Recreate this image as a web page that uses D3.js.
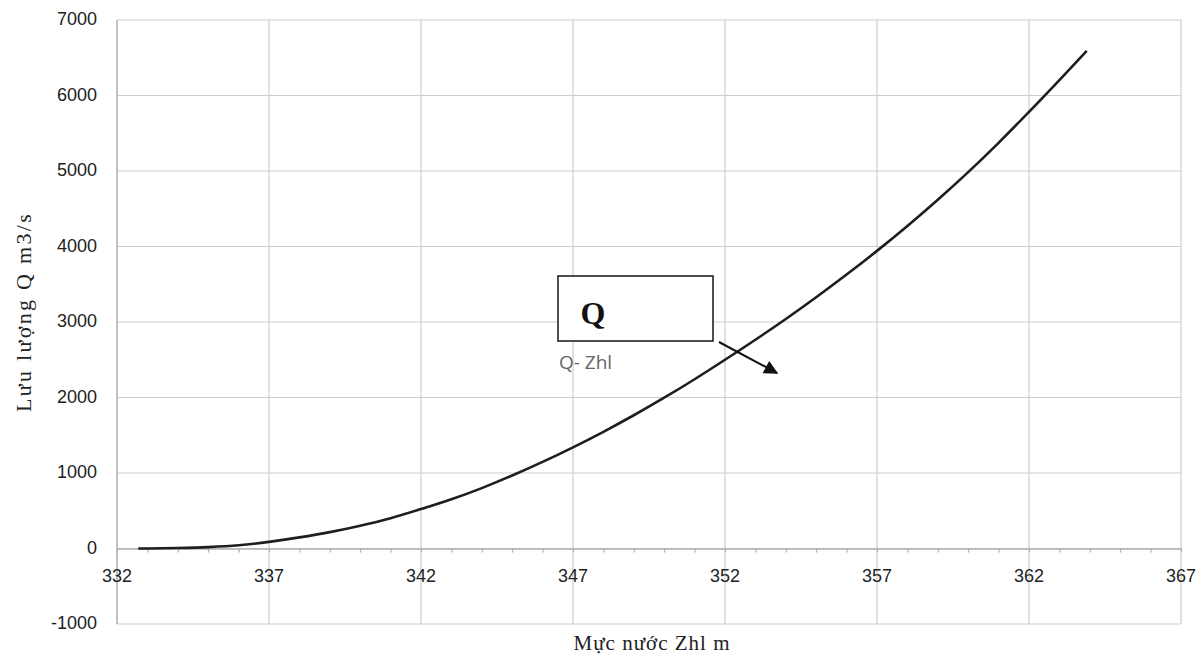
<!DOCTYPE html>
<html>
<head>
<meta charset="utf-8">
<script src="https://cdn.jsdelivr.net/npm/d3@7/dist/d3.min.js"></script>
<style>
  html, body { margin: 0; padding: 0; background: #fff; }
  svg { display: block; }
</style>
</head>
<body>
<svg id="chart" width="1199" height="657"></svg>
<script>
// ---- Data ----
const zhl = [332.7, 333, 334, 335, 336, 337, 338, 339, 340, 341, 342, 343, 344, 345, 346, 347, 348, 349, 350, 351, 352, 353, 354, 355, 356, 357, 358, 359, 360, 361, 362, 363, 363.9];
const qValues = [0, 1, 6, 18, 42, 88, 147, 217, 302, 402, 522, 652, 800, 967, 1147, 1340, 1546, 1765, 1997, 2242, 2500, 2765, 3040, 3328, 3628, 3942, 4272, 4619, 4985, 5373, 5783, 6205, 6592];
const xTicks = [332, 337, 342, 347, 352, 357, 362, 367];
const yTicks = [-1000, 0, 1000, 2000, 3000, 4000, 5000, 6000, 7000];
const xMinorTicks = d3.range(332, 368, 1);
const xTitle = "Mực nước Zhl m";
const yTitle = "Lưu lượng Q m3/s";
const boxLabel = "Q";
const seriesLabel = "Q- Zhl";

// ---- Layout ----
const svg = d3.select("#chart");
const plotL = 117, plotR = 1181, plotT = 20, plotB = 624;

const x = d3.scaleLinear().domain([332, 367]).range([plotL, plotR]);
const y = d3.scaleLinear().domain([-1000, 7000]).range([plotB, plotT]);

const gridColor = "#cdcdcd";

// vertical gridlines
svg.append("g").selectAll("line").data(xTicks).join("line")
  .attr("x1", d => x(d)).attr("x2", d => x(d))
  .attr("y1", plotT).attr("y2", plotB)
  .attr("stroke", gridColor).attr("stroke-width", 1.2);

// horizontal gridlines
svg.append("g").selectAll("line").data(yTicks).join("line")
  .attr("x1", plotL).attr("x2", plotR)
  .attr("y1", d => y(d)).attr("y2", d => y(d))
  .attr("stroke", gridColor).attr("stroke-width", 1.2);

// left axis line
svg.append("line").attr("x1", plotL).attr("x2", plotL).attr("y1", plotT).attr("y2", plotB)
  .attr("stroke", "#b5b5b5").attr("stroke-width", 1.4);

// x axis at zero with minor ticks
const xAxis = d3.axisBottom(x).tickValues(xMinorTicks).tickSize(4).tickFormat("").tickSizeOuter(0);
const gx = svg.append("g").attr("transform", `translate(0,${y(0)})`).call(xAxis);
gx.select(".domain").attr("stroke", "#b0b0b0").attr("stroke-width", 1.6);
gx.selectAll(".tick line").attr("stroke", "#b0b0b0").attr("stroke-width", 1.2);

// x tick labels
svg.append("g").selectAll("text").data(xTicks).join("text")
  .attr("x", d => x(d)).attr("y", 582)
  .attr("text-anchor", "middle")
  .attr("font-family", "'Liberation Sans', Arial, sans-serif")
  .attr("font-size", 18)
  .attr("fill", "#222")
  .text(d => d);

// y tick labels
svg.append("g").selectAll("text").data(yTicks).join("text")
  .attr("x", 97).attr("y", d => y(d) - 1)
  .attr("dy", "0.35em")
  .attr("text-anchor", "end")
  .attr("font-family", "'Liberation Sans', Arial, sans-serif")
  .attr("font-size", 18)
  .attr("fill", "#222")
  .text(d => d);

// axis titles
svg.append("text")
  .attr("x", 652).attr("y", 650)
  .attr("text-anchor", "middle")
  .attr("font-family", "'Liberation Serif', 'Times New Roman', serif")
  .attr("font-size", 21)
  .attr("letter-spacing", 1)
  .attr("fill", "#222")
  .text(xTitle);

svg.append("text")
  .attr("transform", "translate(31,312) rotate(-90)")
  .attr("text-anchor", "middle")
  .attr("font-family", "'Liberation Serif', 'Times New Roman', serif")
  .attr("font-size", 22)
  .attr("letter-spacing", 2.3)
  .attr("fill", "#222")
  .text(yTitle);

// curve
const pts = zhl.map((z, i) => [z, qValues[i]]);
const line = d3.line().x(d => x(d[0])).y(d => y(d[1])).curve(d3.curveMonotoneX);
svg.append("path").datum(pts)
  .attr("d", line)
  .attr("fill", "none")
  .attr("stroke", "#1e1e1e")
  .attr("stroke-width", 2.6);

// annotation box
svg.append("rect")
  .attr("x", 558).attr("y", 276).attr("width", 155).attr("height", 65)
  .attr("fill", "#fff").attr("stroke", "#222").attr("stroke-width", 1.6);
svg.append("text")
  .attr("x", 593).attr("y", 324)
  .attr("text-anchor", "middle")
  .attr("font-family", "'Liberation Serif', 'Times New Roman', serif")
  .attr("font-weight", "bold")
  .attr("font-size", 32)
  .attr("fill", "#111")
  .text(boxLabel);
svg.append("text")
  .attr("x", 559).attr("y", 369)
  .attr("font-family", "'Open Sans', sans-serif")
  .attr("font-size", 19)
  .attr("fill", "#666")
  .text(seriesLabel);

// arrow
const defs = svg.append("defs");
defs.append("marker")
  .attr("id", "arrow").attr("viewBox", "0 0 10 10")
  .attr("refX", 9).attr("refY", 5)
  .attr("markerWidth", 18).attr("markerHeight", 14)
  .attr("markerUnits", "userSpaceOnUse")
  .attr("orient", "auto")
  .append("path").attr("d", "M0,0 L10,5 L0,10 Z").attr("fill", "#111");
svg.append("line")
  .attr("x1", 719).attr("y1", 342).attr("x2", 777).attr("y2", 373)
  .attr("stroke", "#111").attr("stroke-width", 2)
  .attr("marker-end", "url(#arrow)");
</script>
</body>
</html>
